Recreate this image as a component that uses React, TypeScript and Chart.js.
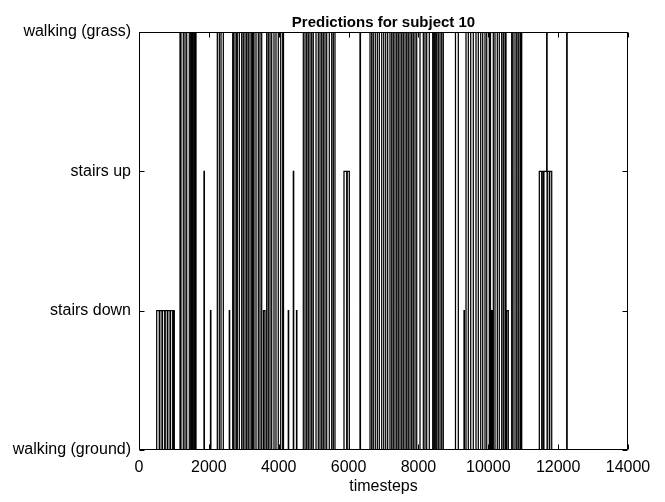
import { useEffect, useRef } from 'react';
import { Chart, registerables } from 'chart.js';

Chart.register(...registerables);

// class index -> label (y axis categories)
const classLabels = ['walking (ground)', 'stairs down', 'stairs up', 'walking (grass)'];

// x axis tick values
const xTickValues = [0, 2000, 4000, 6000, 8000, 10000, 12000, 14000];

// predicted class changes: [timestep where the class starts, class index]
const predictionChanges: [number, number][] = [
  [0, 0],
  [507, 1], [581, 0], [596, 1], [658, 0], [673, 1], [736, 0], [751, 1], [810, 0], [825, 1], [888, 0], [903, 1], [965, 0], [980, 1], [1011, 0],
  [1174, 3], [1202, 0], [1268, 3], [1317, 0], [1366, 3], [1440, 0], [1480, 3], [1509, 0], [1537, 3], [1575, 0], [1603, 3], [1632, 0],
  [1861, 2], [1872, 0],
  [2047, 1], [2058, 0],
  [2242, 3], [2299, 0], [2348, 3], [2414, 0],
  [2585, 1], [2596, 0],
  [2683, 3], [2720, 0], [2777, 3], [2814, 0], [2872, 3], [2940, 0], [2986, 3], [3035, 0], [3083, 3], [3129, 0],
  [3178, 3], [3227, 0], [3255, 3], [3292, 0], [3350, 3], [3416, 0], [3464, 3], [3513, 0],
  [3564, 1], [3607, 0],
  [3656, 3], [3702, 0], [3751, 3], [3799, 0], [3865, 3], [3922, 0], [3988, 3], [4057, 0], [4114, 3], [4137, 0],
  [4274, 1], [4285, 0],
  [4418, 2], [4429, 0],
  [4509, 1], [4520, 0],
  [4704, 3], [4753, 0], [4801, 3], [4847, 0], [4896, 3], [4944, 0], [4990, 3], [5068, 0], [5133, 3], [5182, 0],
  [5231, 3], [5277, 0], [5325, 3], [5374, 0], [5448, 3], [5517, 0], [5563, 3], [5611, 0],
  [5869, 2], [5946, 0], [5961, 2], [6021, 0],
  [6327, 3], [6340, 0],
  [6614, 3], [6662, 0], [6708, 3], [6765, 0], [6823, 3], [6880, 0], [6949, 3], [7006, 0], [7063, 3], [7120, 0],
  [7186, 3], [7235, 0], [7281, 3], [7329, 0], [7378, 3], [7424, 0], [7472, 3], [7521, 0], [7567, 3], [7616, 0],
  [7664, 3], [7710, 0], [7759, 3], [7807, 0], [7853, 3], [7902, 0], [7951, 3], [8045, 0], [8140, 3], [8188, 0],
  [8237, 3], [8311, 0], [8409, 3], [8446, 0], [8483, 3], [8523, 0], [8569, 3], [8618, 0], [8666, 3], [8712, 0],
  [9061, 3], [9142, 0],
  [9305, 1], [9316, 0],
  [9362, 3], [9428, 0], [9497, 3], [9571, 0], [9648, 3], [9714, 0], [9783, 3], [9840, 0], [9906, 3], [9955, 0], [10029, 3], [10063, 0],
  [10098, 1], [10109, 0],
  [10144, 3], [10192, 0], [10258, 3], [10315, 0], [10384, 3], [10430, 0], [10479, 3], [10507, 0],
  [10527, 1], [10573, 0],
  [10670, 3], [10708, 0], [10765, 3], [10814, 0], [10859, 3], [10908, 0], [10931, 3], [10957, 0],
  [11461, 2], [11529, 0], [11541, 2], [11581, 0], [11593, 2], [11672, 3], [11684, 0], [11690, 2], [11747, 0], [11759, 2], [11816, 0],
  [12245, 3], [12258, 0],
];
const lastStep = 12300;

const FONT = '"Liberation Sans", Arial, Helvetica, sans-serif';

const framePlugin = {
  id: 'frameTicks',
  afterDatasetsDraw(chart: any) {
    const { ctx, chartArea, scales } = chart;
    const l = Math.round(chartArea.left) + 0.5;
    const r = Math.round(chartArea.right) - 0.5;
    const t = Math.round(chartArea.top) + 0.5;
    const b = Math.round(chartArea.bottom) - 0.5;
    ctx.save();
    ctx.strokeStyle = '#000';
    ctx.lineWidth = 1;
    ctx.beginPath();
    ctx.rect(l, t, r - l, b - t);
    const len = 5;
    for (const tk of scales.x.ticks) {
      const px = Math.round(scales.x.getPixelForValue(tk.value)) + 0.5;
      ctx.moveTo(px, b); ctx.lineTo(px, b - len);
      ctx.moveTo(px, t); ctx.lineTo(px, t + len);
    }
    for (const tk of scales.y.ticks) {
      const py = Math.round(scales.y.getPixelForValue(tk.value)) + 0.5;
      ctx.moveTo(l, py); ctx.lineTo(l + len, py);
      ctx.moveTo(r, py); ctx.lineTo(r - len, py);
    }
    ctx.stroke();
    ctx.restore();
  },
};

export default function App() {
  const ref = useRef<HTMLCanvasElement | null>(null);
  useEffect(() => {
    document.body.style.margin = '0';
    const points = predictionChanges.map(([x, y]) => ({ x, y }));
    points.push({ x: lastStep, y: predictionChanges[predictionChanges.length - 1][1] });
    const chart = new Chart(ref.current!, {
      type: 'line',
      data: {
        datasets: [
          {
            data: points,
            borderColor: '#000',
            borderWidth: 1.25,
            pointRadius: 0,
            stepped: true,
            fill: false,
          },
        ],
      },
      options: {
        animation: false,
        responsive: false,
        layout: { padding: { left: 0, right: 37, top: 0, bottom: 0 } },
        plugins: {
          legend: { display: false },
          tooltip: { enabled: false },
          title: {
            display: true,
            text: 'Predictions for subject 10',
            fullSize: false,
            color: '#000',
            font: { family: FONT, size: 15, weight: 'bold', lineHeight: 1 },
            padding: { top: 15, bottom: 2 },
          },
        },
        scales: {
          x: {
            type: 'linear',
            min: 0,
            max: 14000,
            afterBuildTicks: (scale: any) => {
              scale.ticks = xTickValues.map((v) => ({ value: v }));
            },
            afterFit: (scale: any) => {
              scale.height = 52;
            },
            grid: { display: false },
            border: { display: false },
            ticks: {
              color: '#000',
              font: { family: FONT, size: 16 },
              padding: 0,
              maxRotation: 0,
              autoSkip: false,
              callback: (v: any) => String(v),
            },
            title: {
              display: true,
              text: 'timesteps',
              color: '#000',
              font: { family: FONT, size: 16 },
              padding: { top: 0, bottom: 6 },
            },
          },
          y: {
            type: 'linear',
            min: 0,
            max: 3,
            afterBuildTicks: (scale: any) => {
              scale.ticks = classLabels.map((_, i) => ({ value: i }));
            },
            afterFit: (scale: any) => {
              scale.width = 139;
            },
            grid: { display: false },
            border: { display: false },
            ticks: {
              color: '#000',
              font: { family: FONT, size: 16 },
              padding: 0,
              autoSkip: false,
              callback: (v: any) => classLabels[Number(v)] ?? '',
            },
          },
        },
      },
      plugins: [framePlugin],
    });
    return () => chart.destroy();
  }, []);
  return (
    <div style={{ position: 'absolute', left: 0, top: 0, width: 665, height: 502, background: '#fff' }}>
      <canvas ref={ref} width={665} height={502} style={{ display: 'block' }} />
    </div>
  );
}
